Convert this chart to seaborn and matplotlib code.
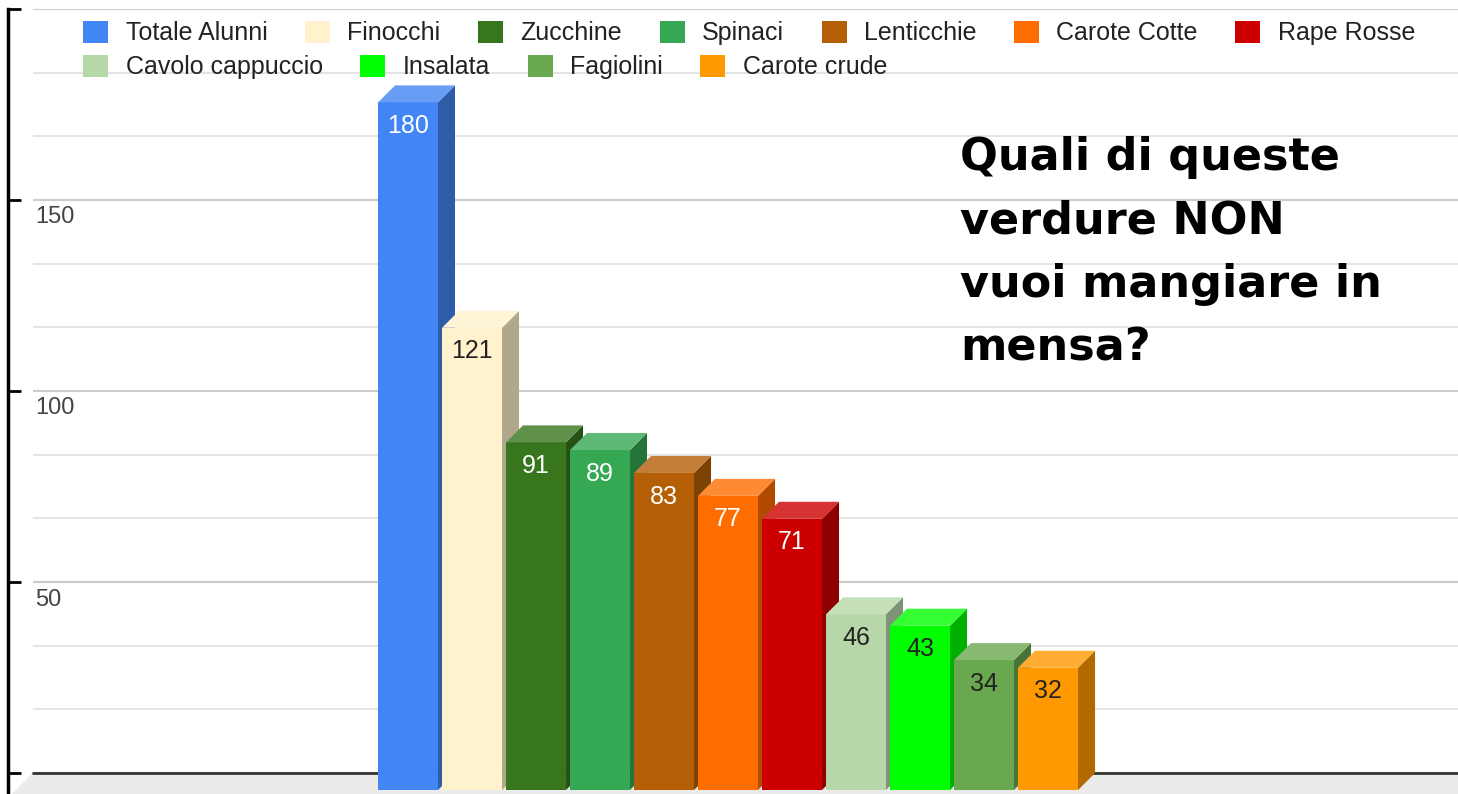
import matplotlib
matplotlib.use("Agg")
import matplotlib.pyplot as plt
import numpy as np
import pandas as pd
import seaborn as sns
from matplotlib.colors import to_rgb
from matplotlib.patches import Patch, Polygon
from matplotlib.ticker import MultipleLocator
from matplotlib.transforms import ScaledTranslation

categories = ["Totale Alunni", "Finocchi", "Zucchine", "Spinaci", "Lenticchie", "Carote Cotte",
              "Rape Rosse", "Cavolo cappuccio", "Insalata", "Fagiolini", "Carote crude"]
values = [180, 121, 91, 89, 83, 77, 71, 46, 43, 34, 32]
colors = ["#4285f4", "#fff2cc", "#38761d", "#34a853", "#b45f06", "#ff6d01",
          "#cc0000", "#b6d7a8", "#00ff00", "#6aa84f", "#ff9900"]
label_colors = ["white", "#222222", "white", "white", "white", "white",
                "white", "#222222", "#222222", "#222222", "#222222"]
y_ticks = [0, 50, 100, 150, 200]
y_tick_labels = ["", "50", "100", "150", ""]
title = "Quali di queste\nverdure NON\nvuoi mangiare in\nmensa?"

sns.set_style("white")
plt.rcParams["font.family"] = ["Liberation Sans", "DejaVu Sans"]

W, H = 1458, 794
fig = plt.figure(figsize=(W / 100, H / 100), dpi=100)
ax = fig.add_axes([33 / W, 21 / H, (W - 33) / W, 764 / H])

df = pd.DataFrame({"verdura": categories, "alunni": values})
sns.barplot(data=df, x="verdura", y="alunni", hue="verdura",
            palette=dict(zip(categories, colors)), width=0.9375,
            errorbar=None, legend=False, saturation=1, ax=ax)

ax.set_xlim(-6.125, 16.14)
ax.set_ylim(0, 200)

# 3d depth of the bars, 17 px up and right
depth = 17
dx, dy = ax.transData.inverted().transform(ax.transData.transform((0, 0)) + depth)

for i, cont in enumerate(ax.containers):
    c = np.array(to_rgb(colors[i]))
    side = c * 0.69
    top = c + (1 - c) * 0.2
    for bar in cont:
        x0, w, h = bar.get_x(), bar.get_width(), bar.get_height()
        bar.set_x(x0 - dx)
        bar.set_y(-dy)
        bar.set_linewidth(0)
        bar.set_zorder(3 + i)
        bar.set_clip_on(False)
        ax.add_patch(Polygon([(x0 - dx + w, -dy), (x0 + w, 0), (x0 + w, h), (x0 - dx + w, h - dy)],
                             closed=True, fc=side, lw=0, zorder=3 + i, clip_on=False))
        ax.add_patch(Polygon([(x0 - dx, h - dy), (x0 - dx + w, h - dy), (x0 + w, h), (x0, h)],
                             closed=True, fc=top, lw=0, zorder=3 + i, clip_on=False))
    anns = ax.bar_label(cont, labels=[str(values[i])], padding=-17, fontsize=18,
                        color=label_colors[i])
    for a in anns:
        a.set_va("center")
        a.set_zorder(30)

# floor
xl, xr = ax.get_xlim()
k = 1.4
ax.add_patch(Polygon([(xl, 0), (xr + 1, 0), (xr + 1 - k * dx, -k * dy), (xl - k * dx, -k * dy)],
                     closed=True, fc="#ebebeb", lw=0, zorder=1, clip_on=False))
ax.axhline(0, color="#333333", lw=2, zorder=2, clip_on=False)

# axis and grid
for s in ["top", "right", "bottom"]:
    ax.spines[s].set_visible(False)
ax.spines["left"].set_position(("outward", 18))
ax.spines["left"].set_linewidth(2.5)
ax.spines["left"].set_color("black")
ax.spines["left"].set_bounds(-6, 200)

ax.set_yticks(y_ticks, y_tick_labels)
ax.yaxis.set_minor_locator(MultipleLocator(50 / 3))
ax.grid(True, which="major", axis="y", color="#cccccc", lw=1.5)
ax.grid(True, which="minor", axis="y", color="#e2e2e2", lw=1.3)
ax.set_axisbelow(True)
ax.tick_params(axis="y", which="minor", left=False, length=0)
ax.tick_params(axis="x", bottom=False, labelbottom=False)
ax.tick_params(axis="y", which="major", left=True, direction="in", length=9, width=2,
               color="black", pad=-19.4, labelsize=17, labelcolor="#444444")
offset = ScaledTranslation(0, -0.15, fig.dpi_scale_trans)
for lab in ax.get_yticklabels():
    lab.set_ha("left")
    lab.set_transform(lab.get_transform() + offset)
ax.set_xlabel("")
ax.set_ylabel("")

# legend, two rows flowing left to right
handles = [Patch(facecolor=c, edgecolor="none") for c in colors]
leg_kw = dict(frameon=False, fontsize=18, handlelength=1.0, handleheight=1.0,
              handletextpad=0.7, columnspacing=1.5, borderpad=0, borderaxespad=0,
              loc="center left", labelcolor="#222222")
leg1 = fig.legend(handles[:7], categories[:7], ncol=7, bbox_to_anchor=(83 / W, 1 - 33 / H), **leg_kw)
leg2 = fig.legend(handles[7:], categories[7:], ncol=4, bbox_to_anchor=(83 / W, 1 - 67 / H), **leg_kw)

fig.text(960 / W, 1 - 136 / H, title, fontsize=32, fontweight="bold", family="DejaVu Sans",
         va="top", ha="left", linespacing=1.6, color="black")

fig.savefig("out.png", dpi=100)
